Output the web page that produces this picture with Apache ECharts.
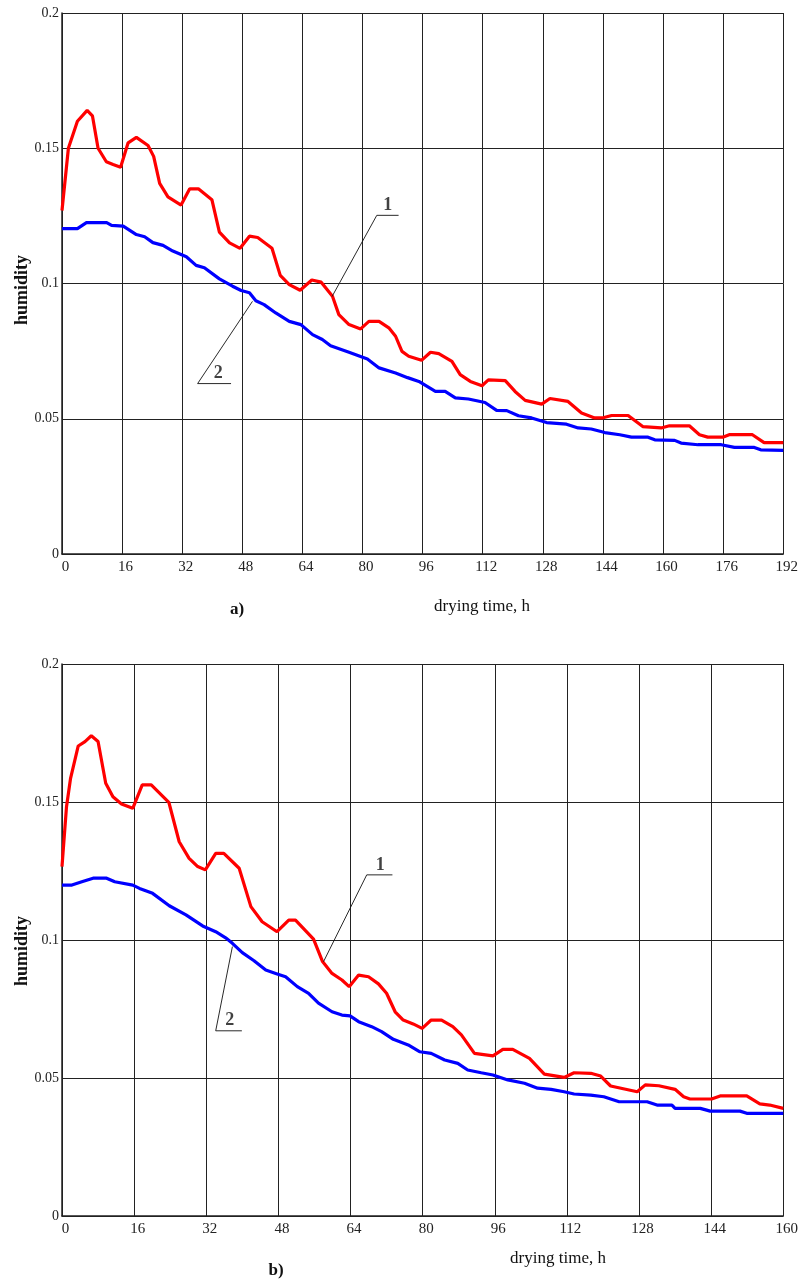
<!DOCTYPE html>
<html>
<head>
<meta charset="utf-8">
<script src="https://cdn.jsdelivr.net/npm/echarts@6/dist/echarts.min.js"></script>
<style>
html,body{margin:0;padding:0;background:#fff;}
#chart{width:801px;height:1281px;}
</style>
</head>
<body>
<div id="chart"></div>
<script>
// ---- data (a): drying time h, humidity ----
const redA = [[0,0.127],[1.7,0.150],[4.1,0.160],[6.7,0.164],[8.1,0.162],[9.6,0.150],[11.8,0.145],[13.6,0.144],[15.6,0.143],[17.6,0.152],[19.8,0.154],[22.9,0.151],[24.4,0.147],[26,0.137],[28.2,0.132],[31.7,0.129],[34,0.135],[36.3,0.135],[39.9,0.131],[41.9,0.119],[44.6,0.115],[47.4,0.113],[49.9,0.1175],[52.1,0.117],[55.9,0.113],[58.1,0.103],[60.5,0.0996],[63.4,0.0975],[66.5,0.1013],[69,0.1005],[72,0.0953],[73.7,0.0885],[76.4,0.0848],[79.5,0.0832],[81.7,0.086],[84.4,0.086],[87,0.0836],[88.8,0.0805],[90.5,0.0749],[92.3,0.0731],[95.7,0.0716],[98.1,0.0746],[100.3,0.0741],[103.8,0.0712],[106,0.0663],[108.7,0.0638],[111.8,0.0622],[113.5,0.0644],[118,0.0641],[120.6,0.0601],[123.3,0.0568],[127.7,0.0554],[129.9,0.0575],[134.7,0.0564],[138.3,0.0521],[141.8,0.0503],[143.8,0.0503],[146.3,0.0512],[150.7,0.0512],[154.6,0.0471],[159.5,0.0466],[161.7,0.0474],[167,0.0474],[169.7,0.0441],[171.9,0.0432],[175.9,0.0432],[177.6,0.0441],[183.8,0.0441],[186.9,0.0412],[192,0.0412]];
const blueA = [[0,0.1203],[4.1,0.1203],[6.5,0.1225],[11.9,0.1225],[13.2,0.1215],[16.3,0.1212],[19.8,0.1181],[22,0.1173],[24.2,0.1151],[26.9,0.1141],[29.5,0.112],[33.1,0.1099],[35.7,0.1067],[37.9,0.1058],[41.9,0.1017],[45.4,0.099],[47.7,0.0974],[49.9,0.0966],[51.6,0.0936],[53.8,0.0922],[56.9,0.0891],[60.5,0.086],[63.6,0.0848],[66.7,0.0811],[69.3,0.0793],[71.5,0.077],[76.4,0.0746],[81.3,0.0721],[84.4,0.0688],[88.8,0.0669],[92,0.0652],[95,0.0638],[99.4,0.0601],[102,0.0601],[104.7,0.0577],[108.2,0.0573],[112.6,0.056],[115.7,0.0531],[118.4,0.053],[121.5,0.0511],[125,0.0503],[129,0.0486],[134.3,0.048],[137.4,0.0466],[140.9,0.0462],[144.5,0.0449],[148.5,0.0441],[151.6,0.0432],[156,0.0432],[157.8,0.0422],[163.1,0.042],[164.8,0.041],[169.3,0.0404],[175.5,0.0404],[179,0.0394],[184.3,0.0394],[186,0.0385],[192,0.0383]];
// ---- data (b) ----
const redB = [[0,0.1266],[1,0.1483],[1.9,0.1586],[3.6,0.1703],[5.1,0.1719],[6.5,0.174],[8,0.1719],[9.7,0.1568],[11.3,0.1519],[13.2,0.1493],[15.7,0.1477],[17.8,0.1562],[19.8,0.1562],[23.7,0.1499],[26,0.1356],[28.2,0.1296],[30.1,0.1266],[31.8,0.1254],[34.1,0.1314],[35.9,0.1314],[39.3,0.126],[41.9,0.1121],[44.4,0.1066],[47.7,0.103],[50.3,0.1072],[51.8,0.1072],[55.8,0.1003],[57.8,0.0922],[59.9,0.0879],[62.1,0.0855],[63.7,0.0831],[65.8,0.0873],[68,0.0867],[70.2,0.0841],[72,0.0807],[73.9,0.074],[75.7,0.071],[77.9,0.0696],[79.9,0.068],[81.9,0.071],[84.2,0.071],[86.7,0.0686],[88.6,0.0656],[91.5,0.0589],[95.6,0.058],[97.8,0.0604],[100,0.0604],[103.7,0.0571],[107,0.0514],[111.4,0.0502],[113.6,0.0519],[117.3,0.0517],[119.5,0.0507],[121.7,0.0471],[127.6,0.045],[129.4,0.0475],[132.4,0.0472],[136,0.0459],[137.9,0.0432],[139.3,0.0424],[144.1,0.0424],[146,0.0435],[151.9,0.0435],[154.8,0.0406],[157,0.0402],[160,0.039]];
const blueB = [[0,0.1199],[2.2,0.1199],[4.4,0.1211],[6.9,0.1224],[9.9,0.1224],[11.7,0.1211],[15.7,0.1199],[17.2,0.1187],[20.1,0.1169],[23.8,0.1124],[27.5,0.1091],[31.2,0.1051],[34.1,0.103],[36.3,0.1008],[37.8,0.0988],[40,0.0954],[42.6,0.0925],[45.2,0.0891],[47.4,0.0879],[49.6,0.0867],[52.2,0.0831],[54.7,0.0807],[56.9,0.0771],[59.9,0.074],[62.1,0.0728],[63.9,0.0725],[65.8,0.0704],[68.7,0.0686],[70.9,0.0668],[73.5,0.064],[76.8,0.062],[79.4,0.0595],[81.9,0.0589],[84.9,0.0565],[87.8,0.0553],[90,0.0529],[93,0.0519],[95.6,0.0511],[98.9,0.0493],[102.6,0.0481],[105.5,0.0463],[108.5,0.0459],[111.4,0.045],[113.6,0.0442],[117.3,0.0438],[120.2,0.0432],[123.6,0.0414],[129.8,0.0414],[132,0.0402],[135.3,0.0402],[136,0.039],[141.6,0.039],[143.8,0.038],[150.4,0.038],[151.9,0.0372],[160,0.0372]];
// ---- leader lines and curve labels (data coordinates) ----
const leader1A = [[71.9,0.0952],[83.8,0.1252],[89.6,0.1252]];
const leader2A = [[50.7,0.0934],[36.1,0.063],[45,0.063]];
const leader1B = [[58.0,0.0921],[67.6,0.1236],[73.3,0.1236]];
const leader2B = [[37.8,0.0976],[34.1,0.0671],[39.9,0.0671]];
const curveLabelsA = [{name:'1', value:[86.7,0.1252]},{name:'2', value:[41.6,0.063]}];
const curveLabelsB = [{name:'1', value:[70.6,0.1236]},{name:'2', value:[37.2,0.0671]}];
const xMaxA = 192, xMaxB = 160;
const yTicks = ['0','0.05','0.1','0.15','0.2'];

const SERIF = '"Liberation Serif","DejaVu Serif",serif';
const chart = echarts.init(document.getElementById('chart'), null, {renderer:'canvas'});

function xAxis(gi, max){
  return {
    type:'value', gridIndex:gi, min:0, max:max, interval:16,
    axisLine:{show:true, onZero:false, lineStyle:{color:'#222', width:1.5}},
    axisTick:{show:false},
    splitLine:{show:true, lineStyle:{color:'#222', width:1}},
    axisLabel:{color:'#222', fontFamily:SERIF, fontSize:15, margin:6, padding:[0,0,0,7],
      showMinLabel:true, showMaxLabel:true}
  };
}
function yAxis(gi){
  return {
    type:'value', gridIndex:gi, min:0, max:0.2, interval:0.05,
    axisLine:{show:true, lineStyle:{color:'#222', width:1.5}},
    axisTick:{show:false},
    splitLine:{show:true, lineStyle:{color:'#222', width:1}},
    axisLabel:{color:'#222', fontFamily:SERIF, fontSize:14, margin:3,
      formatter:function(v){ return yTicks[Math.round(v/0.05)]; }}
  };
}
function curve(data, color, gi){
  return {type:'line', xAxisIndex:gi, yAxisIndex:gi, data:data, symbol:'none', smooth:false,
    lineStyle:{color:color, width:3.2}, itemStyle:{color:color}, z:3, silent:true, animation:false};
}
function leader(data, gi){
  return {type:'line', xAxisIndex:gi, yAxisIndex:gi, data:data, symbol:'none',
    lineStyle:{color:'#111', width:0.9}, z:4, silent:true, animation:false};
}
function labels(data, gi){
  return {type:'scatter', xAxisIndex:gi, yAxisIndex:gi, data:data, symbolSize:0.01,
    label:{show:true, position:'top', distance:1, formatter:'{b}', color:'#111',
      fontFamily:SERIF, fontWeight:'bold', fontSize:18},
    z:5, silent:true, animation:false};
}

chart.setOption({
  animation:false,
  backgroundColor:'#fff',
  grid:[
    {left:62, top:13, right:15, height:541},
    {left:62, top:664, right:14, height:552}
  ],
  xAxis:[xAxis(0,xMaxA), xAxis(1,xMaxB)],
  yAxis:[yAxis(0), yAxis(1)],
  series:[
    curve(redA,'#ff0000',0), curve(blueA,'#0000ff',0),
    curve(redB,'#ff0000',1), curve(blueB,'#0000ff',1),
    leader(leader1A,0), leader(leader2A,0), leader(leader1B,1), leader(leader2B,1),
    labels(curveLabelsA,0), labels(curveLabelsB,1)
  ],
  graphic:[
    {type:'text', x:22, y:290, rotation:Math.PI/2,
      style:{text:'humidity', font:'bold 18px '+SERIF, fill:'#111', align:'center', verticalAlign:'middle'}},
    {type:'text', x:22, y:951, rotation:Math.PI/2,
      style:{text:'humidity', font:'bold 18px '+SERIF, fill:'#111', align:'center', verticalAlign:'middle'}},
    {type:'text', x:482, y:607,
      style:{text:'drying time, h', font:'17px '+SERIF, fill:'#111', align:'center', verticalAlign:'middle'}},
    {type:'text', x:558, y:1259,
      style:{text:'drying time, h', font:'17px '+SERIF, fill:'#111', align:'center', verticalAlign:'middle'}},
    {type:'text', x:237, y:610,
      style:{text:'a)', font:'bold 17px '+SERIF, fill:'#111', align:'center', verticalAlign:'middle'}},
    {type:'text', x:276, y:1271,
      style:{text:'b)', font:'bold 17px '+SERIF, fill:'#111', align:'center', verticalAlign:'middle'}}
  ]
});
</script>
</body>
</html>
